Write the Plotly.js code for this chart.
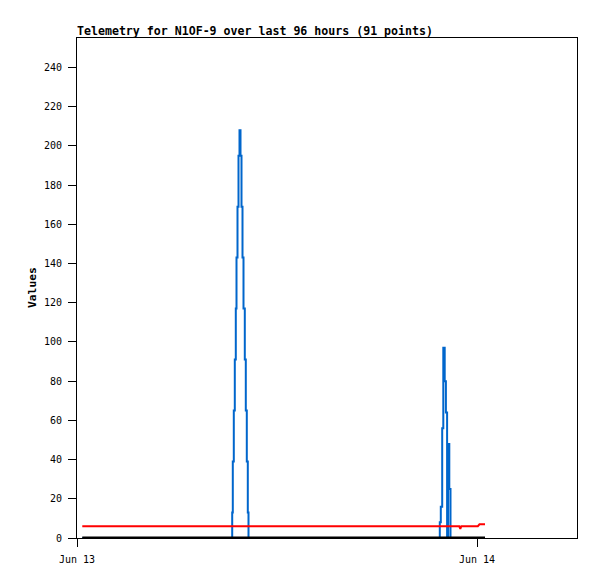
<!DOCTYPE html>
<html>
<head>
<meta charset="utf-8">
<script src="https://cdn.plot.ly/plotly-3.0.1.min.js"></script>
<style>
  html, body { margin: 0; padding: 0; background: #ffffff; }
  #chart { width: 597px; height: 579px; }
</style>
</head>
<body>
<div id="chart"></div>
<script>
// ---- data ----
const chartTitle = 'Telemetry for N1OF-9 over last 96 hours (91 points)';
const yTitle = 'Values';

const blueTimes = [
  '2024-06-13 00:19:00',
  '2024-06-13 09:18:43', '2024-06-13 09:20:53', '2024-06-13 09:24:29', '2024-06-13 09:28:05',
  '2024-06-13 09:31:41', '2024-06-13 09:34:12', '2024-06-13 09:37:48', '2024-06-13 09:41:24',
  '2024-06-13 09:45:00', '2024-06-13 09:48:36', '2024-06-13 09:52:12', '2024-06-13 09:55:48',
  '2024-06-13 09:59:24', '2024-06-13 10:04:05', '2024-06-13 10:07:41', '2024-06-13 10:11:17',
  '2024-06-13 10:14:53', '2024-06-13 10:17:24',
  '2024-06-13 21:46:05', '2024-06-13 21:49:41', '2024-06-13 21:54:43', '2024-06-13 21:58:41',
  '2024-06-13 22:03:43', '2024-06-13 22:08:02', '2024-06-13 22:12:22', '2024-06-13 22:16:00',
  '2024-06-13 22:20:17', '2024-06-13 22:24:36',
  '2024-06-14 00:28:48'
];
const blueValues = [
  0,
  13, 39, 65, 91,
  117, 143, 169, 195,
  208, 195, 169, 143,
  117, 91, 65, 39,
  13, 0,
  8, 16, 56, 97,
  80, 64, 0, 48,
  25, 0,
  0
];

const redTimes = [
  '2024-06-13 00:19:00', '2024-06-13 22:56:00', '2024-06-13 23:00:00', '2024-06-13 23:03:30',
  '2024-06-14 00:03:00', '2024-06-14 00:06:00', '2024-06-14 00:09:00', '2024-06-14 00:28:48'
];
const redValues = [6, 6, 4.7, 6, 6, 6.5, 7, 7];

const blackTimes = ['2024-06-13 00:19:00', '2024-06-14 00:28:48'];
const blackValues = [0, 0];

const xRange = ['2024-06-13 00:00:00', '2024-06-14 06:00:00'];
const yRange = [0, 255];

// ---- chart ----
const mono = 'DejaVu Sans Mono, Liberation Mono, monospace';

const traces = [
  { x: blueTimes, y: blueValues, type: 'scatter', mode: 'lines',
    line: { color: '#0066cc', width: 2, shape: 'hv' }, hoverinfo: 'skip' },
  { x: redTimes, y: redValues, type: 'scatter', mode: 'lines',
    line: { color: '#ff0000', width: 2 }, hoverinfo: 'skip' },
  { x: blackTimes, y: blackValues, type: 'scatter', mode: 'lines',
    line: { color: '#000000', width: 3 }, hoverinfo: 'skip' }
];

const layout = {
  width: 597, height: 579,
  paper_bgcolor: '#ffffff', plot_bgcolor: '#ffffff',
  showlegend: false,
  margin: { l: 77, r: 20, t: 38, b: 41, pad: 0 },
  title: {
    text: '<b>' + chartTitle + '</b>',
    font: { family: mono, size: 11.6, color: '#000000' },
    x: 0, xref: 'paper', xanchor: 'left',
    y: 1 - 31 / 579, yref: 'container', yanchor: 'middle'
  },
  xaxis: {
    type: 'date', range: xRange,
    tick0: '2024-06-13', dtick: 86400000, tickformat: '%b %d',
    ticks: 'outside', ticklen: 8, tickwidth: 1, tickcolor: '#000000',
    ticklabelstandoff: 4,
    showline: true, linecolor: '#000000', linewidth: 1, mirror: true,
    showgrid: false, zeroline: false,
    tickfont: { family: mono, size: 10, color: '#000000' }
  },
  yaxis: {
    range: yRange, tick0: 0, dtick: 20,
    ticks: 'outside', ticklen: 8, tickwidth: 1, tickcolor: '#000000',
    ticklabelstandoff: 4,
    showline: true, linecolor: '#000000', linewidth: 1, mirror: true,
    showgrid: false, zeroline: false,
    tickfont: { family: mono, size: 10, color: '#000000' }
  },
  annotations: [{
    text: '<b>' + yTitle + '</b>', textangle: -90,
    xref: 'paper', yref: 'paper', x: -0.09, y: 0.5,
    xanchor: 'center', yanchor: 'middle', showarrow: false,
    font: { family: mono, size: 11.3, color: '#000000' }
  }]
};

Plotly.newPlot('chart', traces, layout, { staticPlot: true, displayModeBar: false });
</script>
</body>
</html>
